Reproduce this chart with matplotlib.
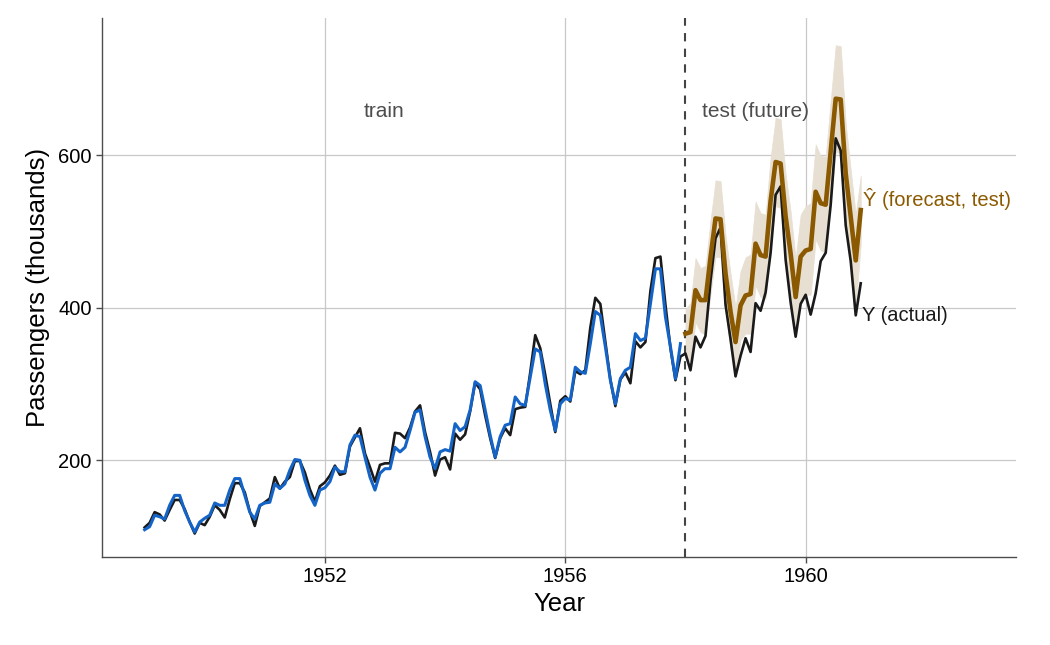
import numpy as np
import matplotlib
matplotlib.use("Agg")
from matplotlib import pyplot as plt

# AirPassengers, monthly totals 1949-1960 (thousands)
actual = [
    112, 118, 132, 129, 121, 135, 148, 148, 136, 119, 104, 118,
    115, 126, 141, 135, 125, 149, 170, 170, 158, 133, 114, 140,
    145, 150, 178, 163, 172, 178, 199, 199, 184, 162, 146, 166,
    171, 180, 193, 181, 183, 218, 230, 242, 209, 191, 172, 194,
    196, 196, 236, 235, 229, 243, 264, 272, 237, 211, 180, 201,
    204, 188, 235, 227, 234, 264, 302, 293, 259, 229, 203, 229,
    242, 233, 267, 269, 270, 315, 364, 347, 312, 274, 237, 278,
    284, 277, 317, 313, 318, 374, 413, 405, 355, 306, 271, 306,
    315, 301, 356, 348, 355, 422, 465, 467, 404, 347, 305, 336,
    340, 318, 362, 348, 363, 435, 491, 505, 404, 359, 310, 337,
    360, 342, 406, 396, 420, 472, 548, 559, 463, 407, 362, 405,
    417, 391, 419, 461, 472, 535, 622, 606, 508, 461, 390, 432,
]

# fitted values on the training period (1949-1957)
fitted = [
    109, 113, 128, 126, 123, 141, 154, 154, 134, 119, 106, 119,
    124, 128, 144, 141, 141, 161, 176, 176, 154, 132, 123, 141,
    144, 145, 169, 163, 169, 187, 201, 200, 174, 154, 141, 161,
    164, 172, 191, 185, 185, 220, 233, 231, 204, 178, 161, 183,
    189, 189, 217, 211, 217, 239, 263, 266, 231, 204, 189, 211,
    214, 212, 248, 239, 244, 266, 303, 298, 266, 233, 204, 231,
    246, 248, 283, 274, 272, 309, 346, 342, 300, 266, 239, 274,
    281, 279, 322, 316, 314, 353, 395, 390, 349, 305, 274, 307,
    318, 322, 366, 357, 360, 405, 451, 451, 388, 349, 307, 353,
]

# forecast for the test period (1958-1960) and its interval
forecast = [
    366, 368, 423, 410, 410, 466, 517, 516, 445, 395, 355, 403,
    416, 418, 484, 469, 467, 540, 591, 589, 520, 471, 414, 467,
    475, 477, 552, 537, 535, 605, 674, 673, 576, 519, 462, 528,
]
upper = [
    398, 406, 465, 452, 455, 514, 567, 566, 495, 445, 400, 448,
    466, 470, 539, 524, 522, 597, 649, 647, 575, 526, 464, 522,
    533, 537, 614, 599, 598, 671, 744, 743, 641, 581, 522, 573,
]
lower = [
    334, 330, 381, 368, 365, 418, 467, 466, 395, 345, 310, 358,
    366, 366, 429, 414, 412, 483, 533, 531, 465, 416, 364, 412,
    417, 417, 490, 475, 472, 539, 604, 603, 511, 457, 402, 483,
]

start_year = 1949
split_year = 1958

t_all = start_year + np.arange(len(actual)) / 12
t_fit = start_year + np.arange(len(fitted)) / 12
t_fc = split_year + np.arange(len(forecast)) / 12

plt.rcParams["font.family"] = ["Liberation Sans", "DejaVu Sans"]

black = "#1a1a1a"
blue = "#1464c8"
brown = "#8b5a00"

fig, ax = plt.subplots(figsize=(10.5, 6.45), dpi=100)
fig.subplots_adjust(left=0.0971, right=0.9676, top=0.972, bottom=0.1364)

ax.fill_between(t_fc, lower, upper, color="#e8dfd3", edgecolor="#e8dfd3", lw=0.5, zorder=1)
ax.plot(t_all, actual, color=black, lw=1.9, zorder=3)
ax.plot(t_fit, fitted, color=blue, lw=2.2, zorder=4)
ax.plot(t_fc, forecast, color=brown, lw=3.3, zorder=5)
ax.axvline(split_year, color="#444444", lw=1.5, ls=(0, (4, 3.5)), zorder=2)

ax.text(1952.98, 657, "train", color="#4d4d4d", fontsize=15, ha="center", va="center")
ax.text(1958.28, 657, "test (future)", color="#4d4d4d", fontsize=15, ha="left", va="center")
ax.text(1960.94, 390, "Y (actual)", color=black, fontsize=14.5, ha="left", va="center")
ax.text(1960.95, 543, "\u0176 (forecast, test)", color=brown, fontsize=14.5, ha="left", va="center")

ax.set_xlim(1948.29, 1963.5)
ax.set_ylim(73.2, 779.7)
ax.set_xticks([1952, 1956, 1960])
ax.set_yticks([200, 400, 600])
ax.set_xlabel("Year", fontsize=18.5, labelpad=4)
ax.set_ylabel("Passengers (thousands)", fontsize=18.5, labelpad=6)

ax.grid(True, color="#c8c8c8", lw=0.9)
ax.set_axisbelow(True)
for side in ["top", "right"]:
    ax.spines[side].set_visible(False)
for side in ["left", "bottom"]:
    ax.spines[side].set_color("#4d4d4d")
    ax.spines[side].set_linewidth(1.0)
ax.tick_params(colors="#4d4d4d", labelcolor="black", labelsize=14.5, length=4, width=1)

plt.savefig("out.png", dpi=100)
